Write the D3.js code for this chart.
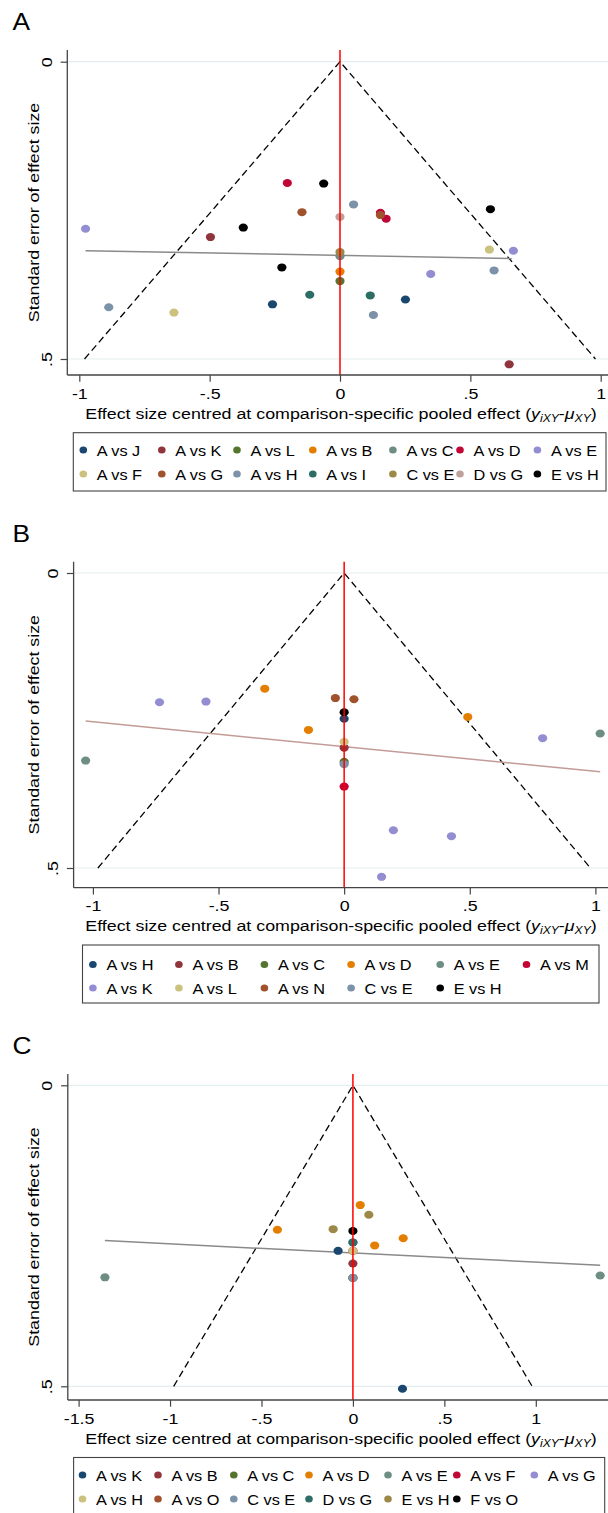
<!DOCTYPE html>
<html><head><meta charset="utf-8">
<script src="https://cdn.jsdelivr.net/npm/d3@7"></script>
<style>body{margin:0;background:#fff}</style>
</head><body>
<svg id="chart" width="608" height="1513"></svg>
<script>
// ================= DATA =================
// Panel A
const labelsA = ["A vs J","A vs K","A vs L","A vs B","A vs C","A vs D","A vs E",
                 "A vs F","A vs G","A vs H","A vs I","C vs E","D vs G","E vs H"];
// [legend index, effect centred, standard error]
const pointsA = [
  [0,-0.259,0.408],[0,0.251,0.400],
  [1,-0.497,0.295],[1,0.649,0.509],
  [2,0,0.369],
  [3,0,0.353],
  [4,0,0.327],
  [5,-0.202,0.204],[5,0.155,0.254],[5,0.177,0.264],
  [6,-0.976,0.281],[6,0.665,0.318],[6,0.348,0.357],
  [7,0.573,0.316],[7,-0.637,0.422],
  [8,-0.146,0.253],[8,0.155,0.258],
  [9,0.052,0.240],[9,0.591,0.351],[9,-0.887,0.413],[9,0.128,0.426],
  [10,-0.116,0.392],[10,0.116,0.393],
  [11,0,0.320],
  [12,0,0.261],
  [13,-0.0625,0.205],[13,0.577,0.248],[13,-0.371,0.279],[13,-0.223,0.346]
];
const regA = [[-0.976,0.318],[0.659,0.331]];
const xTicksA = [-1,-0.5,0,0.5,1];

// Panel B
const labelsB = ["A vs H","A vs B","A vs C","A vs D","A vs E","A vs M",
                 "A vs K","A vs L","A vs N","C vs E","E vs H"];
const pointsB = [
  [0,0,0.247],
  [1,0,0.296],
  [2,0,0.320],
  [3,-0.316,0.196],[3,-0.142,0.266],[3,0.492,0.244],
  [4,-1.029,0.318],[4,1.019,0.272],
  [5,0,0.362],
  [6,-0.735,0.219],[6,-0.550,0.218],[6,0.790,0.280],[6,0.196,0.436],[6,0.427,0.446],[6,0.149,0.515],
  [7,0,0.286],
  [8,-0.035,0.212],[8,0.039,0.214],
  [9,0,0.324],
  [10,0,0.236]
];
const regB = [[-1.029,0.251],[1.019,0.337]];
const xTicksB = [-1,-0.5,0,0.5,1];

// Panel C
const labelsC = ["A vs K","A vs B","A vs C","A vs D","A vs E","A vs F","A vs G",
                 "A vs H","A vs O","C vs E","D vs G","E vs H","F vs O"];
const pointsC = [
  [0,-0.081,0.275],[0,0.271,0.504],
  [1,0,0.296],
  [2,0,0.320],
  [3,0.040,0.199],[3,-0.413,0.240],[3,0.275,0.254],[3,0.119,0.266],
  [4,-1.356,0.319],[4,1.352,0.316],
  [5,0,0.275],
  [6,0,0.261],
  [7,0,0.275],
  [8,0,0.320],
  [9,0,0.320],
  [10,0,0.261],
  [11,0.087,0.215],[11,-0.108,0.239],
  [12,0,0.242]
];
const regC = [[-1.356,0.258],[1.352,0.299]];
const xTicksC = [-1.5,-1,-0.5,0,0.5,1];

const yTicks = [0,0.5];
const funnelSE = 0.5;   // funnel drawn to se = .5 (pseudo 95% limits: +/-1.96*se)

// ================= STYLE =================
const colorsA = ["#1a476f","#90353b","#55752f","#e37e00","#6e8e84","#c10534","#938dd2",
                 "#cac27e","#a0522d","#7b92a8","#2d6d66","#9c8847","#bfa19c","#000000"];
const colorsB = ["#1a476f","#90353b","#55752f","#e37e00","#6e8e84","#c10534",
                 "#938dd2","#cac27e","#a0522d","#7b92a8","#000000"];
const colorsC = ["#1a476f","#90353b","#55752f","#e37e00","#6e8e84","#c10534","#938dd2",
                 "#cac27e","#a0522d","#7b92a8","#2d6d66","#9c8847","#000000"];

const SX = 1.15, SXL = 1.05, FS = 15.5, FONT = "'Liberation Sans', Arial, Helvetica, sans-serif";
const svg = d3.select("#chart");
svg.append("rect").attr("width",608).attr("height",1513).attr("fill","#fff");

function txt(g, x, y, s, opt = {}) {
  const t = g.append("text")
    .attr("transform", `translate(${x},${y})` + (opt.rotate ? " rotate(-90)" : "") + ` scale(${opt.sx || SX},1)`)
    .attr("text-anchor", opt.anchor || "middle")
    .attr("font-size", opt.size || FS)
    .attr("font-family", FONT)
    .attr("fill", "#000");
  if (s !== null) t.text(s);
  return t;
}
const fmt = d => d === 0 ? "0" : (d < 0 ? "-" : "") + String(Math.abs(d)).replace(/^0/, "");

const panels = [
  {letter:"A", labels:labelsA, points:pointsA, reg:regA, colors:colorsA, regColor:"#8a8a8a",
   xTicks:xTicksA, xDom:[-1,1], xRange:[79.3,600.7], yRange:[61.7,359],
   axisX:67.3, top:50, bottom:375, letterY:30,
   box:[73.3,606,432.7,491], rows:[450,474], cols:[83.3,161.8,237,312.8,392.9,460,537.4]},
  {letter:"B", labels:labelsB, points:pointsB, reg:regB, colors:colorsB, regColor:"#c39c96",
   xTicks:xTicksB, xDom:[-1,1], xRange:[92.9,595.4], yRange:[573,868],
   axisX:73.6, top:561.7, bottom:887.7, letterY:541.5,
   box:[82.5,599,945,1003], rows:[964.5,988], cols:[92.9,178.9,264.4,351.1,440.2,526.5]},
  {letter:"C", labels:labelsC, points:pointsC, reg:regC, colors:colorsC, regColor:"#8a8a8a",
   xTicks:xTicksC, xDom:[-1.5,1], xRange:[78.6,535.8], yRange:[1085.3,1386.3],
   axisX:67.8, top:1074, bottom:1400, letterY:1053.5,
   box:[73.6,604.7,1457.5,1516], rows:[1475,1499], cols:[82.5,158,233.8,309,388,456.8,534.3]}
];

panels.forEach(p => {
  const g = svg.append("g");
  const x = d3.scaleLinear().domain(p.xDom).range(p.xRange);
  const y = d3.scaleLinear().domain([0, 0.5]).range(p.yRange);
  const right = 608;

  // panel letter
  txt(g, 12.5, p.letterY, p.letter, {anchor:"start", size:23.5, sx:1.12});

  // gridlines
  g.selectAll(".grid").data(yTicks).enter().append("line")
    .attr("x1", p.axisX).attr("x2", right)
    .attr("y1", d => y(d)).attr("y2", d => y(d))
    .attr("stroke", "#e3eef0").attr("stroke-width", 1.2);

  // funnel
  const line = d3.line().x(d => x(d[0])).y(d => y(d[1]));
  g.append("path")
    .attr("d", line([[-1.96*funnelSE, funnelSE],[0,0],[1.96*funnelSE, funnelSE]]))
    .attr("fill","none").attr("stroke","#000").attr("stroke-width",1.3)
    .attr("stroke-dasharray","7,4");

  // regression line
  g.append("path").attr("d", line(p.reg))
    .attr("fill","none").attr("stroke", p.regColor).attr("stroke-width",1.5);

  // points (drawn in legend order)
  const pts = p.points.slice().sort((a,b) => a[0]-b[0]);
  g.selectAll(".pt").data(pts).enter().append("ellipse")
    .attr("cx", d => x(d[1])).attr("cy", d => y(d[2]))
    .attr("rx", 4.6).attr("ry", 4.0)
    .attr("fill", d => p.colors[d[0]]);

  // red zero line
  g.append("line").attr("x1", x(0)).attr("x2", x(0))
    .attr("y1", p.top).attr("y2", p.bottom)
    .attr("stroke", "#ff0000").attr("stroke-width", 1.5);

  // axes
  const xAxis = d3.axisBottom(x).tickValues(p.xTicks).tickFormat(fmt).tickSize(6.7).tickPadding(0);
  const gx = g.append("g").attr("transform", `translate(0,${p.bottom})`).call(xAxis);
  gx.select(".domain").remove();
  gx.selectAll(".tick line").attr("stroke","#444").attr("stroke-width",1.2);
  gx.selectAll(".tick text").attr("y", 0).attr("dy", null)
    .attr("transform", `translate(0,23.5) scale(${SX},1)`)
    .attr("font-size", FS).attr("font-family", FONT).attr("fill","#000");

  const yAxis = d3.axisLeft(y).tickValues(yTicks).tickFormat(fmt).tickSize(6.7).tickPadding(0);
  const gy = g.append("g").attr("transform", `translate(${p.axisX},0)`).call(yAxis);
  gy.select(".domain").remove();
  gy.selectAll(".tick line").attr("stroke","#444").attr("stroke-width",1.2);
  gy.selectAll(".tick text").attr("x", 0).attr("dy", null)
    .attr("transform", `translate(-15.8,0) rotate(-90) scale(${SX},1)`)
    .attr("text-anchor","middle")
    .attr("font-size", FS).attr("font-family", FONT).attr("fill","#000");

  g.append("line").attr("x1", p.axisX).attr("x2", p.axisX).attr("y1", p.top).attr("y2", p.bottom)
    .attr("stroke","#444").attr("stroke-width",1.3);
  g.append("line").attr("x1", p.axisX).attr("x2", right).attr("y1", p.bottom).attr("y2", p.bottom)
    .attr("stroke","#444").attr("stroke-width",1.3);

  // axis titles
  txt(g, 38.5, (p.top + p.bottom)/2, "Standard error of effect size", {rotate:true});
  const xt = txt(g, 341, p.bottom + 43.5, null);
  xt.append("tspan").text("Effect size centred at comparison-specific pooled effect (");
  xt.append("tspan").attr("font-style","italic").text("y");
  xt.append("tspan").attr("font-style","italic").attr("font-size", FS*0.68).attr("dy", 3).text("iXY");
  xt.append("tspan").attr("dy", -3).text("-");
  xt.append("tspan").attr("font-style","italic").text("μ");
  xt.append("tspan").attr("font-style","italic").attr("font-size", FS*0.68).attr("dy", 3).text("XY");
  xt.append("tspan").attr("dy", -3).text(")");

  // legend
  const [bx0, bx1, by0, by1] = p.box;
  g.append("rect").attr("x", bx0).attr("y", by0).attr("width", bx1-bx0).attr("height", by1-by0)
    .attr("fill","none").attr("stroke","#444").attr("stroke-width",1.1);
  const nc = p.cols.length;
  const items = p.labels.map((l,i) => ({label:l, color:p.colors[i], cx:p.cols[i % nc], cy:p.rows[Math.floor(i / nc)]}));
  const li = g.selectAll(".leg").data(items).enter().append("g");
  li.append("ellipse").attr("cx", d => d.cx).attr("cy", d => d.cy).attr("rx", 3.8).attr("ry", 3.5)
    .attr("fill", d => d.color);
  li.each(function(d){ txt(d3.select(this), d.cx + 13.5, d.cy + 5.5, d.label, {anchor:"start", sx:SXL}); });
});
</script>
</body></html>
